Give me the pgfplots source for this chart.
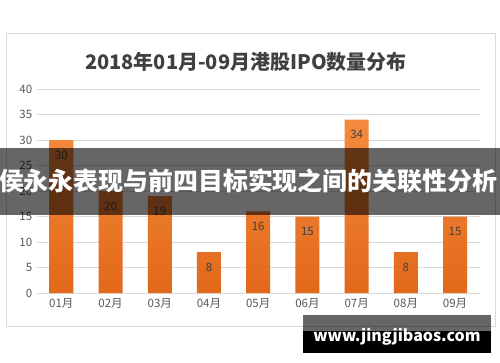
\documentclass[border=0pt]{standalone}
\usepackage{pgfplots}
\pgfplotsset{compat=1.18}
\usepackage{fontspec}
\setmainfont{Noto Sans CJK SC}
\definecolor{txt}{HTML}{595959}
\definecolor{ttl}{HTML}{404040}
\definecolor{grd}{HTML}{D9D9D9}
\definecolor{bartop}{HTML}{F58B3E}
\definecolor{barbot}{HTML}{E2681A}
\begin{document}
\begin{tikzpicture}[x=1pt,y=1pt]
\path[use as bounding box] (0,0) rectangle (500,362);
\fill[white] (0,0) rectangle (500,362);
\draw[grd, line width=0.8pt] (6,36) rectangle (495,329);
\node[text=ttl, font=\fontsize{20}{24}\selectfont\bfseries] at (246,300) {2018年01月-09月港股IPO数量分布};
\begin{axis}[
  at={(36.7pt,69pt)}, anchor=south west,
  scale only axis, width=443pt, height=204pt,
  xmin=-0.5, xmax=8.5, ymin=0, ymax=40,
  ytick={0,5,...,40},
  xtick={0,...,8},
  xticklabels={01月,02月,03月,04月,05月,06月,07月,08月,09月},
  axis lines*=left, axis line style={-},
  y axis line style={draw=none},
  x axis line style={draw=grd, line width=0.8pt},
  major tick length=0pt,
  ymajorgrids, grid style={grd, line width=0.6pt},
  tick label style={text=txt, font=\fontsize{11.5}{13}\selectfont},
  /pgf/number format/assume math mode=true,
  yticklabel style={xshift=-1pt},
  xticklabel style={yshift=-2pt},
  ybar, bar width=24pt,
  nodes near coords,
  nodes near coords style={anchor=center, yshift=-15pt, text=ttl, font=\fontsize{11.5}{13}\selectfont},
  clip=false,
]
\addplot[draw=none, top color=bartop, bottom color=barbot] coordinates {
(0,30) (1,20) (2,19) (3,8) (4,16) (5,15) (6,34) (7,8) (8,15)};
\end{axis}
% overlay banner
\fill[black, fill opacity=0.6] (0,147) rectangle (500,214);
\node[text=white, font=\fontsize{24.9}{29}\selectfont\bfseries, inner sep=0pt] at (248,181) {侯永永表现与前四目标实现之间的关联性分析};
% watermark
\fill[black, fill opacity=0.6] (303,31) rectangle (491,47);
\fill[black] (303,9) rectangle (491,31);
\node[text=white, font=\fontsize{16}{19}\selectfont\bfseries] at (397,25) {www.jingjibaos.com};
\end{tikzpicture}
\end{document}
